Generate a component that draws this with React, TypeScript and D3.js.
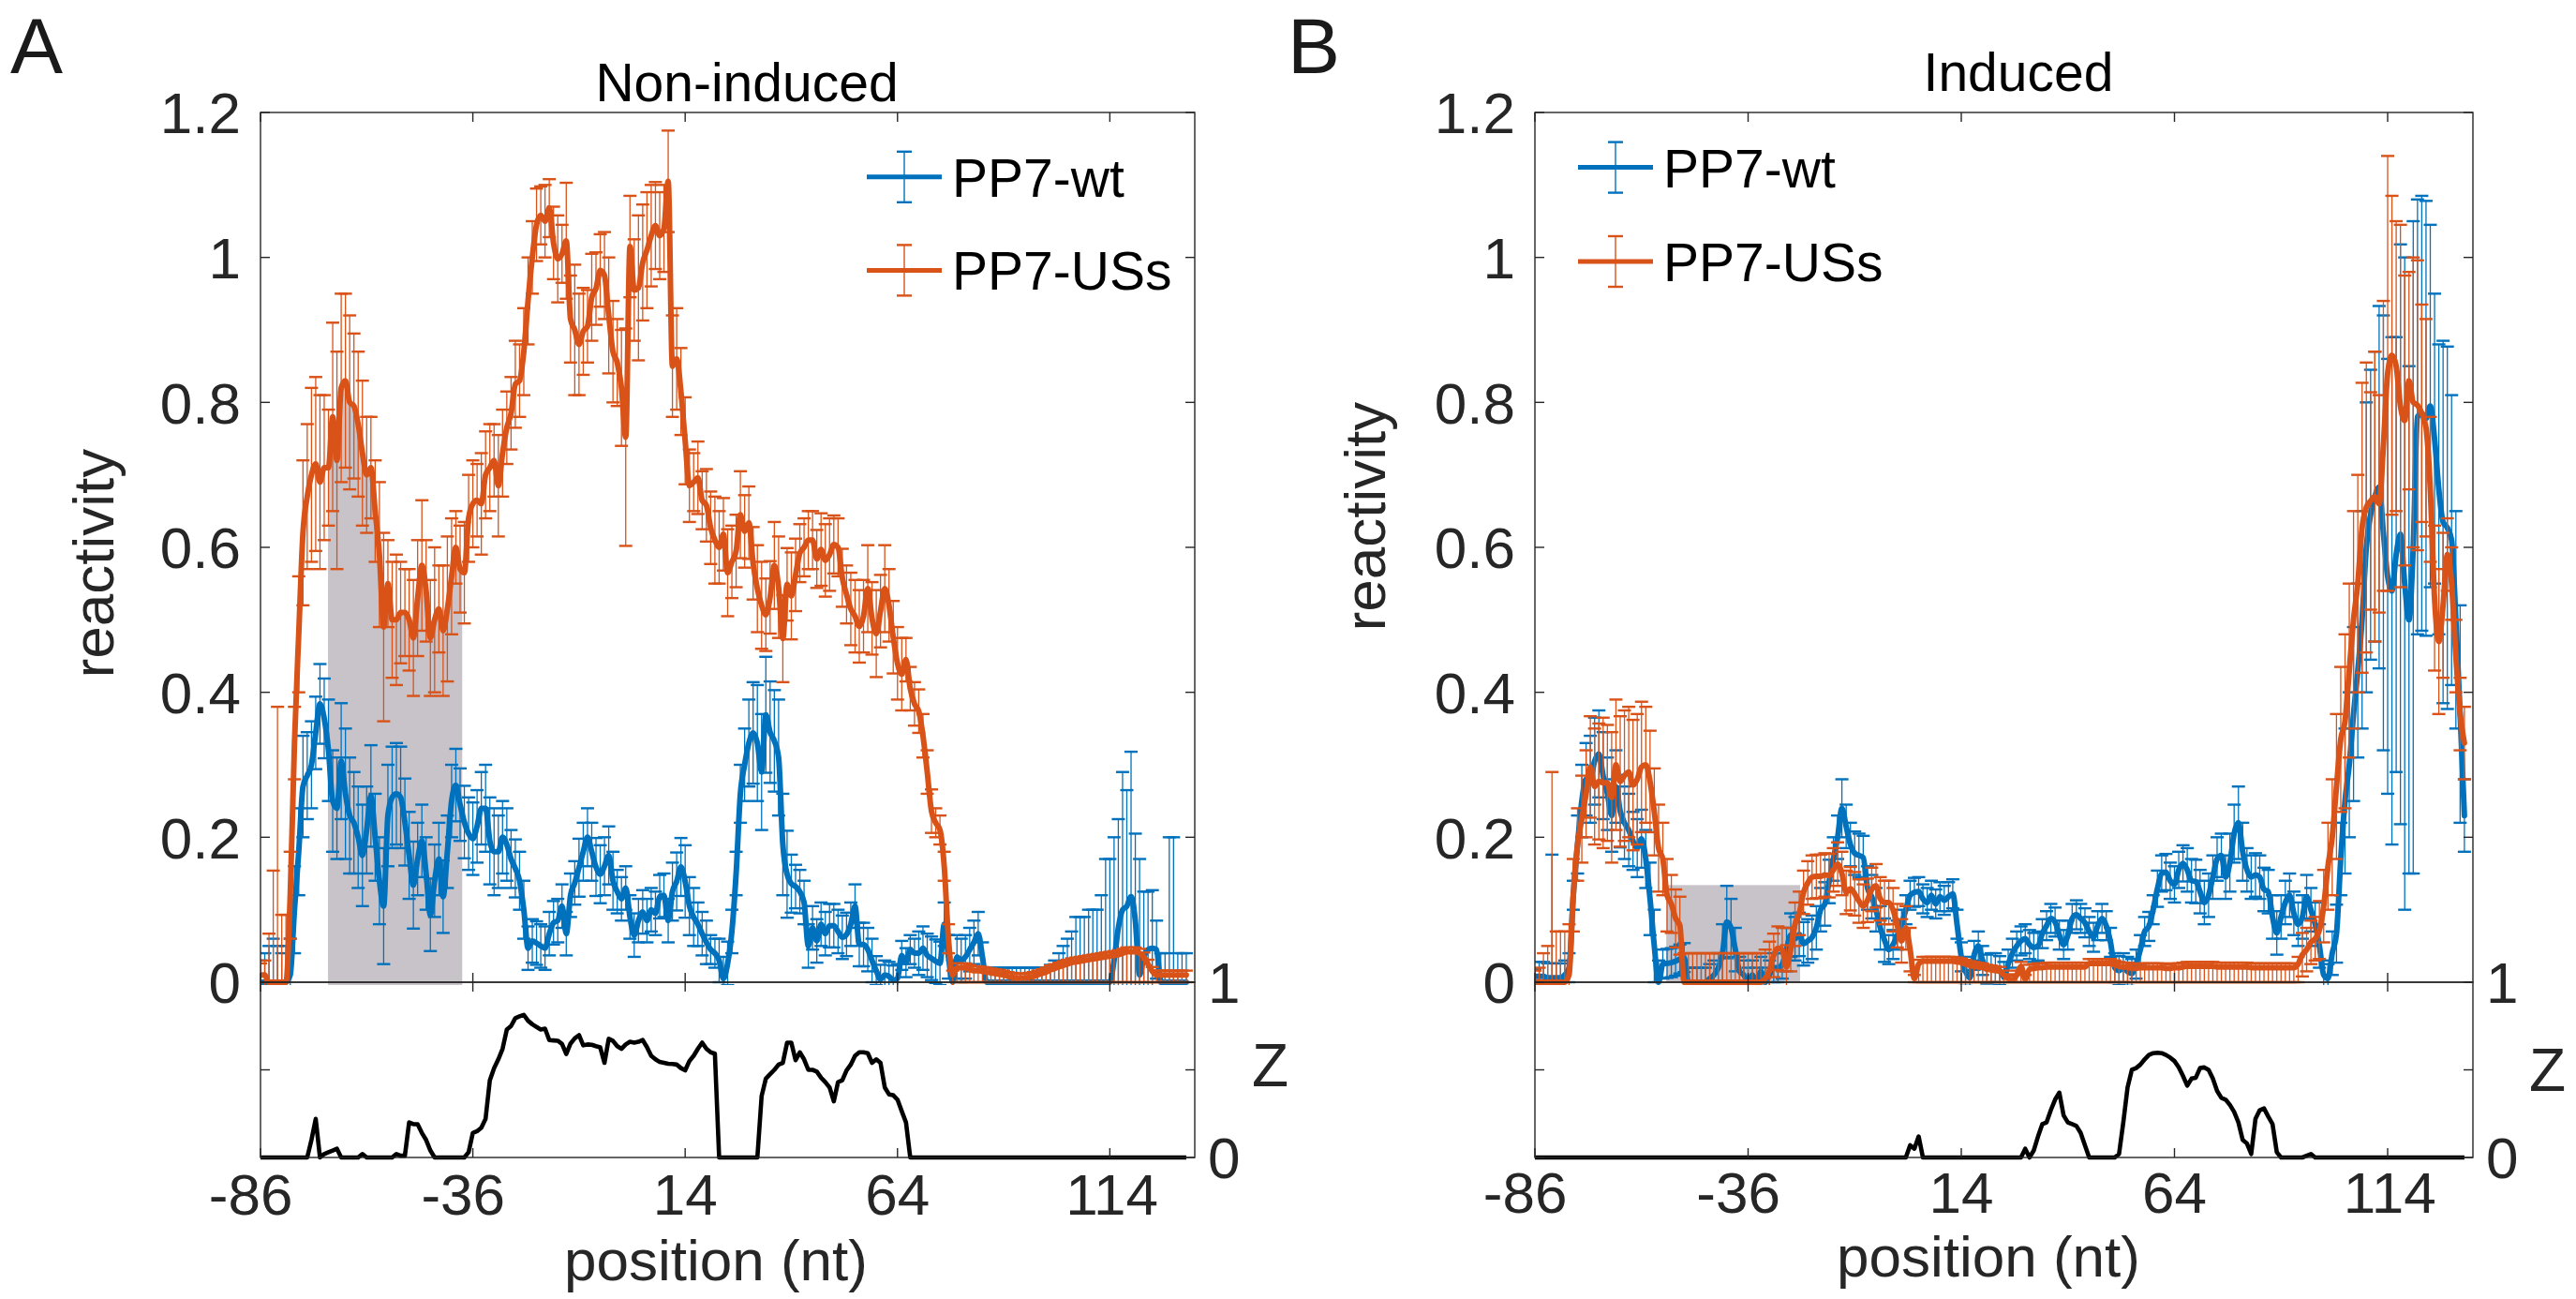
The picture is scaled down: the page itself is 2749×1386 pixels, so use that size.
import React, { useEffect, useRef } from "react";
import * as d3 from "d3";

// ---------- data ----------
const POS_START = -86;
const POS_END = 132;
const positions = d3.range(POS_START, POS_END + 1);

const X_DOMAIN = [-86, 134];
const Y_DOMAIN = [0, 1.2];
const Z_DOMAIN = [0, 1];
const xTicks = [-86, -36, 14, 64, 114];
const yTicks = [0, 0.2, 0.4, 0.6, 0.8, 1, 1.2];
const yTickLabels = ["0", "0.2", "0.4", "0.6", "0.8", "1", "1.2"];
const zTicks = [0, 0.5, 1];
const zTickLabels = ["0", "", "1"];
const seriesNames = ["PP7-wt", "PP7-USs"];
const panelTitles = ["Non-induced", "Induced"];
const panelLetters = ["A", "B"];

// Non-induced (panel A)
const nonInducedWt = [
  0, 0, 0, 0, 0, 0, 0, 0.01, 0.1, 0.18,
  0.27, 0.285, 0.3, 0.344, 0.384, 0.364, 0.32, 0.25, 0.24, 0.305,
  0.26, 0.23, 0.22, 0.2, 0.175, 0.21, 0.257, 0.2, 0.14, 0.105,
  0.23, 0.255, 0.26, 0.255, 0.221, 0.175, 0.134, 0.17, 0.195, 0.15,
  0.093, 0.14, 0.17, 0.118, 0.18, 0.25, 0.272, 0.245, 0.221, 0.205,
  0.198, 0.215, 0.24, 0.24, 0.195, 0.18, 0.18, 0.2, 0.19, 0.17,
  0.157, 0.14, 0.1, 0.047, 0.057, 0.054, 0.05, 0.047, 0.067, 0.082,
  0.085, 0.105, 0.067, 0.12, 0.137, 0.158, 0.18, 0.2, 0.18, 0.159,
  0.149, 0.16, 0.175, 0.14, 0.125, 0.115, 0.13, 0.09, 0.065, 0.085,
  0.097, 0.085, 0.1, 0.095, 0.118, 0.12, 0.085, 0.125, 0.139, 0.159,
  0.139, 0.105, 0.09, 0.08, 0.067, 0.055, 0.045, 0.04, 0.03, 0.005,
  0.026, 0.07, 0.15, 0.26, 0.3, 0.33, 0.344, 0.33, 0.29, 0.369,
  0.345, 0.333, 0.31, 0.19, 0.149, 0.136, 0.132, 0.125, 0.11, 0.05,
  0.075, 0.057, 0.08, 0.067, 0.078, 0.078, 0.07, 0.062, 0.066, 0.08,
  0.105, 0.052, 0.052, 0.045, 0.03, 0.016, 0.004, 0.01, 0.008, 0.003,
  0.005, 0.037, 0.027, 0.045, 0.04, 0.04, 0.047, 0.037, 0.033, 0.029,
  0.026, 0.08, 0.035, 0, 0.035, 0.03, 0.035, 0.045, 0.055, 0.067,
  0.035, 0, 0, 0, 0, 0, 0, 0, 0, 0,
  0, 0, 0, 0, 0, 0, 0, 0, 0, 0,
  0, 0, 0, 0, 0, 0, 0, 0, 0, 0,
  0, 0.03, 0.075, 0.1, 0.105, 0.118, 0.085, 0.01, 0.035, 0.045,
  0.047, 0.045, 0, 0, 0, 0, 0, 0, 0,
];
const nonInducedWtErr = [
  0.03, 0.04, 0.05, 0.06, 0.05, 0.04, 0.05, 0.05, 0.06, 0.06,
  0.07, 0.06, 0.06, 0.05, 0.055, 0.055, 0.07, 0.07, 0.07, 0.08,
  0.09, 0.08, 0.07, 0.07, 0.07, 0.06, 0.07, 0.06, 0.06, 0.08,
  0.07, 0.07, 0.07, 0.07, 0.06, 0.06, 0.06, 0.05, 0.05, 0.05,
  0.05, 0.05, 0.05, 0.05, 0.05, 0.05, 0.05, 0.05, 0.05, 0.05,
  0.05, 0.05, 0.05, 0.06, 0.06, 0.06, 0.05, 0.05, 0.05, 0.04,
  0.04, 0.04, 0.04, 0.03, 0.03, 0.03, 0.03, 0.03, 0.03, 0.03,
  0.03, 0.03, 0.03, 0.03, 0.03, 0.04, 0.04, 0.04, 0.04, 0.04,
  0.04, 0.04, 0.04, 0.04, 0.03, 0.03, 0.03, 0.03, 0.03, 0.03,
  0.03, 0.03, 0.03, 0.03, 0.03, 0.03, 0.03, 0.04, 0.04, 0.04,
  0.05, 0.04, 0.04, 0.03, 0.03, 0.03, 0.02, 0.02, 0.03, 0.03,
  0.03, 0.03, 0.03, 0.04, 0.05, 0.06, 0.07, 0.08, 0.08, 0.08,
  0.07, 0.07, 0.08, 0.07, 0.06, 0.04, 0.03, 0.03, 0.03, 0.03,
  0.03, 0.03, 0.03, 0.03, 0.03, 0.03, 0.03, 0.03, 0.03, 0.03,
  0.03, 0.03, 0.03, 0.03, 0.03, 0.02, 0.02, 0.02, 0.02, 0.02,
  0.02, 0.02, 0.02, 0.02, 0.02, 0.03, 0.03, 0.03, 0.03, 0.03,
  0.03, 0.03, 0.03, 0.03, 0.03, 0.03, 0.03, 0.03, 0.03, 0.03,
  0.02, 0.02, 0.02, 0.02, 0.02, 0.02, 0.02, 0.02, 0.02, 0.02,
  0.02, 0.02, 0.02, 0.02, 0.02, 0.02, 0.024, 0.03, 0.04, 0.05,
  0.06, 0.07, 0.09, 0.09, 0.09, 0.1, 0.1, 0.1, 0.12, 0.17,
  0.17, 0.17, 0.15, 0.19, 0.16, 0.2, 0.12, 0.16, 0.09, 0.08,
  0.08, 0.04, 0.04, 0.04, 0.2, 0.2, 0.04, 0.04, 0.04,
];
const nonInducedUs = [
  0.01, 0.01, 0, 0, 0, 0, 0, 0.12, 0.33, 0.48,
  0.62, 0.67, 0.7, 0.715, 0.69, 0.71, 0.71, 0.78, 0.72, 0.82,
  0.83, 0.8, 0.795, 0.77, 0.73, 0.7, 0.71, 0.65, 0.59, 0.49,
  0.55, 0.5, 0.5, 0.51, 0.51, 0.5, 0.475, 0.53, 0.575, 0.54,
  0.475, 0.5, 0.515, 0.485, 0.515, 0.56, 0.6, 0.57, 0.565, 0.64,
  0.66, 0.665, 0.66, 0.7, 0.71, 0.72, 0.685, 0.73, 0.765, 0.785,
  0.825, 0.83, 0.87, 0.94, 1.0, 1.045, 1.058, 1.05, 1.068, 1.02,
  0.998, 1.005, 1.023, 0.915, 0.9, 0.88, 0.898, 0.905, 0.945, 0.957,
  0.982, 0.975, 0.92, 0.87, 0.855, 0.82, 0.752, 1.015, 0.955, 0.958,
  0.993, 1.01, 1.03, 1.044, 1.03, 1.04, 1.105, 0.85, 0.86, 0.815,
  0.747, 0.685, 0.69, 0.696, 0.665, 0.658, 0.627, 0.61, 0.6, 0.618,
  0.565, 0.58, 0.595, 0.645, 0.622, 0.634, 0.578, 0.543, 0.52, 0.507,
  0.531, 0.575, 0.545, 0.474, 0.549, 0.533, 0.562, 0.592, 0.6, 0.61,
  0.61, 0.584, 0.597, 0.582, 0.59, 0.604, 0.6, 0.558, 0.535, 0.515,
  0.505, 0.491, 0.505, 0.543, 0.502, 0.481, 0.512, 0.543, 0.52, 0.476,
  0.44, 0.425, 0.445, 0.405, 0.384, 0.374, 0.34, 0.29, 0.236, 0.22,
  0.21, 0.16, 0.06, 0.01, 0.02, 0.02, 0.02, 0.018, 0.016, 0.016,
  0.015, 0.014, 0.013, 0.012, 0.011, 0.01, 0.008, 0.007, 0.006, 0.006,
  0.006, 0.007, 0.008, 0.01, 0.012, 0.014, 0.017, 0.019, 0.021, 0.023,
  0.025, 0.027, 0.028, 0.029, 0.03, 0.031, 0.032, 0.033, 0.034, 0.035,
  0.036, 0.037, 0.038, 0.04, 0.042, 0.042, 0.042, 0.04, 0.035, 0.025,
  0.015, 0.01, 0.01, 0.01, 0.01, 0.01, 0.01, 0.01, 0.01,
];
// lower half of the PP7-USs error bars
const nonInducedUsErr = [
  0.016, 0.02, 0.067, 0.154, 0.38, 0.093, 0.093, 0.06, 0.05, 0.08,
  0.1, 0.1, 0.12, 0.12, 0.12, 0.1, 0.08, 0.13, 0.15, 0.13,
  0.12, 0.12, 0.1, 0.1, 0.1, 0.08, 0.07, 0.07, 0.1, 0.13,
  0.06, 0.08, 0.09, 0.07, 0.06, 0.07, 0.08, 0.08, 0.09, 0.07,
  0.08, 0.1, 0.06, 0.09, 0.1, 0.08, 0.05, 0.06, 0.07, 0.06,
  0.06, 0.05, 0.07, 0.06, 0.06, 0.05, 0.07, 0.06, 0.05, 0.05,
  0.06, 0.05, 0.06, 0.06, 0.05, 0.05, 0.04, 0.05, 0.04, 0.05,
  0.06, 0.04, 0.08, 0.06, 0.09, 0.07, 0.06, 0.05, 0.06, 0.05,
  0.05, 0.06, 0.08, 0.07, 0.06, 0.08, 0.15, 0.07, 0.07, 0.1,
  0.08, 0.08, 0.07, 0.06, 0.06, 0.06, 0.07, 0.07, 0.07, 0.06,
  0.06, 0.05, 0.04, 0.05, 0.04, 0.05, 0.05, 0.06, 0.05, 0.05,
  0.06, 0.05, 0.05, 0.06, 0.05, 0.05, 0.05, 0.06, 0.06, 0.05,
  0.05, 0.06, 0.07, 0.06, 0.05, 0.06, 0.05, 0.04, 0.04, 0.04,
  0.04, 0.04, 0.05, 0.05, 0.05, 0.04, 0.04, 0.04, 0.04, 0.05,
  0.05, 0.05, 0.05, 0.06, 0.05, 0.06, 0.05, 0.06, 0.05, 0.05,
  0.05, 0.05, 0.03, 0.03, 0.03, 0.03, 0.03, 0.03, 0.03, 0.02,
  0.02, 0.02, 0.02, 0.02, 0.02, 0.02, 0.02, 0.018, 0.016, 0.016,
  0.015, 0.014, 0.013, 0.012, 0.011, 0.01, 0.008, 0.007, 0.006, 0.006,
  0.006, 0.007, 0.008, 0.01, 0.012, 0.014, 0.017, 0.019, 0.021, 0.023,
  0.025, 0.027, 0.028, 0.029, 0.03, 0.031, 0.032, 0.033, 0.034, 0.035,
  0.036, 0.037, 0.038, 0.04, 0.042, 0.042, 0.042, 0.04, 0.035, 0.025,
  0.015, 0.01, 0.01, 0.01, 0.01, 0.01, 0.01, 0.01, 0.01,
];
// upper half of the PP7-USs error bars
const nonInducedUsErrHigh = [
  0.016, 0.02, 0.067, 0.154, 0.38, 0.093, 0.093, 0.06, 0.05, 0.08,
  0.1, 0.1, 0.12, 0.12, 0.12, 0.1, 0.08, 0.13, 0.15, 0.13,
  0.12, 0.12, 0.1, 0.1, 0.1, 0.08, 0.07, 0.07, 0.1, 0.13,
  0.06, 0.08, 0.09, 0.07, 0.06, 0.07, 0.08, 0.08, 0.09, 0.07,
  0.08, 0.1, 0.06, 0.09, 0.1, 0.08, 0.05, 0.06, 0.07, 0.06,
  0.06, 0.05, 0.07, 0.06, 0.06, 0.05, 0.07, 0.06, 0.05, 0.05,
  0.06, 0.05, 0.06, 0.06, 0.05, 0.05, 0.04, 0.05, 0.04, 0.05,
  0.06, 0.04, 0.08, 0.06, 0.09, 0.07, 0.06, 0.05, 0.06, 0.05,
  0.05, 0.06, 0.08, 0.07, 0.06, 0.08, 0.15, 0.07, 0.07, 0.1,
  0.08, 0.08, 0.07, 0.06, 0.06, 0.06, 0.07, 0.07, 0.07, 0.06,
  0.06, 0.05, 0.04, 0.05, 0.04, 0.05, 0.05, 0.06, 0.05, 0.05,
  0.06, 0.05, 0.05, 0.06, 0.05, 0.05, 0.05, 0.06, 0.06, 0.05,
  0.05, 0.06, 0.07, 0.06, 0.05, 0.06, 0.05, 0.04, 0.04, 0.04,
  0.04, 0.04, 0.05, 0.05, 0.05, 0.04, 0.04, 0.04, 0.04, 0.05,
  0.05, 0.05, 0.05, 0.06, 0.05, 0.06, 0.05, 0.06, 0.05, 0.05,
  0.05, 0.05, 0.03, 0.03, 0.03, 0.03, 0.03, 0.03, 0.03, 0.02,
  0.02, 0.02, 0.02, 0.006, 0.006, 0.006, 0.006, 0.006, 0.006, 0.006,
  0.006, 0.006, 0.006, 0.006, 0.006, 0.006, 0.006, 0.006, 0.006, 0.006,
  0.006, 0.006, 0.006, 0.006, 0.006, 0.006, 0.006, 0.006, 0.006, 0.006,
  0.006, 0.006, 0.006, 0.006, 0.006, 0.006, 0.006, 0.006, 0.006, 0.006,
  0.006, 0.006, 0.006, 0.006, 0.006, 0.006, 0.006, 0.006, 0.006, 0.006,
  0.006, 0.006, 0.006, 0.006, 0.006, 0.006, 0.006, 0.006, 0.006,
];
const nonInducedZ = [
  0, 0, 0, 0, 0, 0, 0, 0, 0, 0,
  0, 0, 0.1, 0.22, 0, 0.02, 0.03, 0.04, 0.05, 0,
  0, 0, 0, 0, 0.02, 0, 0, 0, 0, 0,
  0, 0, 0.02, 0.01, 0.01, 0.2, 0.19, 0.19, 0.14, 0.1,
  0.04, 0, 0, 0, 0, 0, 0, 0, 0, 0.03,
  0.14, 0.15, 0.17, 0.22, 0.44, 0.51, 0.56, 0.62, 0.73, 0.75,
  0.795, 0.805, 0.814, 0.78, 0.76, 0.745, 0.73, 0.735, 0.67, 0.668,
  0.666, 0.648, 0.59, 0.65, 0.68, 0.698, 0.64, 0.645, 0.643, 0.635,
  0.628, 0.54, 0.677, 0.665, 0.635, 0.62, 0.645, 0.66, 0.655, 0.66,
  0.67, 0.63, 0.58, 0.56, 0.545, 0.54, 0.535, 0.533, 0.53, 0.51,
  0.497, 0.55, 0.58, 0.62, 0.655, 0.62, 0.6, 0.592, 0, 0,
  0, 0, 0, 0, 0, 0, 0, 0, 0.35, 0.45,
  0.475, 0.5, 0.53, 0.54, 0.655, 0.655, 0.555, 0.6, 0.56, 0.5,
  0.5, 0.49, 0.455, 0.43, 0.4, 0.32, 0.43, 0.44, 0.497, 0.53,
  0.58, 0.6, 0.6, 0.595, 0.54, 0.56, 0.54, 0.4, 0.36, 0.355,
  0.33, 0.264, 0.2, 0, 0, 0, 0, 0, 0, 0,
  0, 0, 0, 0, 0, 0, 0, 0, 0, 0,
  0, 0, 0, 0, 0, 0, 0, 0, 0, 0,
  0, 0, 0, 0, 0, 0, 0, 0, 0, 0,
  0, 0, 0, 0, 0, 0, 0, 0, 0, 0,
  0, 0, 0, 0, 0, 0, 0, 0, 0, 0,
  0, 0, 0, 0, 0, 0, 0, 0, 0,
];

// Induced (panel B)
const inducedWt = [
  0.008, 0.008, 0.008, 0.006, 0.006, 0.006, 0.006, 0.01, 0.02, 0.12,
  0.19, 0.25, 0.28, 0.28, 0.305, 0.315, 0.285, 0.26, 0.23, 0.27,
  0.236, 0.22, 0.21, 0.195, 0.185, 0.198, 0.17, 0.115, 0.05, 0,
  0.025, 0.026, 0.027, 0.029, 0.032, 0.034, 0, 0, 0, 0,
  0, 0.005, 0.01, 0.02, 0.04, 0.083, 0.075, 0.045, 0.015, 0.01,
  0, 0.01, 0, 0.015, 0, 0.01, 0.02, 0.02, 0.025, 0.045,
  0.065, 0.06, 0.066, 0.053, 0.057, 0.062, 0.075, 0.1, 0.108, 0.139,
  0.17, 0.2, 0.24, 0.215, 0.19, 0.178, 0.175, 0.172, 0.13, 0.118,
  0.1, 0.075, 0.058, 0.045, 0.052, 0.065, 0.08, 0.1, 0.12, 0.124,
  0.125, 0.115, 0.11, 0.12, 0.108, 0.118, 0.113, 0.118, 0.122, 0.08,
  0.035, 0.015, 0.006, 0.037, 0.05, 0.03, 0.018, 0.02, 0.02, 0.016,
  0.008, 0.025, 0.04, 0.05, 0.057, 0.06, 0.052, 0.048, 0.05, 0.067,
  0.078, 0.088, 0.083, 0.065, 0.052, 0.065, 0.088, 0.093, 0.088, 0.082,
  0.07, 0.062, 0.078, 0.088, 0.078, 0.055, 0.02, 0.016, 0.02, 0.015,
  0.012, 0.025, 0.045, 0.07, 0.077, 0.1, 0.129, 0.15, 0.152, 0.14,
  0.135, 0.155, 0.164, 0.155, 0.14, 0.139, 0.125, 0.11, 0.12, 0.145,
  0.17, 0.175, 0.145, 0.165, 0.205, 0.22, 0.18, 0.155, 0.145, 0.148,
  0.145, 0.128, 0.125, 0.09, 0.068, 0.09, 0.11, 0.12, 0.095, 0.08,
  0.09, 0.118, 0.1, 0.08, 0.05, 0.01, 0.005, 0.04, 0.067, 0.17,
  0.25, 0.3, 0.37, 0.43, 0.5, 0.6, 0.645, 0.67, 0.683, 0.62,
  0.56, 0.54, 0.59, 0.618, 0.55, 0.5, 0.6, 0.78, 0.785, 0.778,
  0.795, 0.75, 0.68, 0.635, 0.627, 0.61, 0.5, 0.37, 0.23,
];
const inducedWtErr = [
  0.01, 0.02, 0.02, 0.02, 0.17, 0.02, 0.02, 0.02, 0.02, 0.02,
  0.04, 0.05, 0.05, 0.06, 0.06, 0.06, 0.06, 0.05, 0.05, 0.05,
  0.05, 0.05, 0.05, 0.04, 0.04, 0.04, 0.04, 0.05, 0.05, 0.03,
  0.02, 0.02, 0.02, 0.02, 0.02, 0.02, 0.02, 0.02, 0.02, 0.02,
  0.02, 0.02, 0.02, 0.02, 0.04, 0.05, 0.04, 0.03, 0.02, 0.02,
  0.02, 0.02, 0.02, 0.02, 0.02, 0.02, 0.02, 0.02, 0.02, 0.03,
  0.03, 0.03, 0.03, 0.03, 0.03, 0.03, 0.03, 0.03, 0.03, 0.03,
  0.03, 0.03, 0.04, 0.03, 0.03, 0.03, 0.03, 0.03, 0.03, 0.03,
  0.03, 0.03, 0.03, 0.02, 0.02, 0.02, 0.02, 0.02, 0.02, 0.02,
  0.02, 0.02, 0.02, 0.02, 0.02, 0.02, 0.02, 0.02, 0.02, 0.02,
  0.02, 0.02, 0.02, 0.02, 0.02, 0.02, 0.02, 0.02, 0.02, 0.02,
  0.02, 0.02, 0.02, 0.02, 0.02, 0.02, 0.02, 0.02, 0.02, 0.02,
  0.02, 0.02, 0.02, 0.02, 0.02, 0.02, 0.02, 0.02, 0.02, 0.02,
  0.02, 0.02, 0.02, 0.02, 0.02, 0.02, 0.02, 0.02, 0.02, 0.02,
  0.02, 0.02, 0.02, 0.02, 0.02, 0.02, 0.025, 0.025, 0.025, 0.025,
  0.025, 0.025, 0.025, 0.03, 0.03, 0.03, 0.03, 0.03, 0.03, 0.03,
  0.03, 0.03, 0.03, 0.04, 0.04, 0.05, 0.04, 0.03, 0.03, 0.03,
  0.03, 0.03, 0.03, 0.03, 0.03, 0.03, 0.03, 0.03, 0.03, 0.03,
  0.03, 0.03, 0.03, 0.03, 0.03, 0.02, 0.02, 0.03, 0.04, 0.05,
  0.1, 0.1, 0.12, 0.12, 0.15, 0.2, 0.2, 0.2, 0.25, 0.3,
  0.3, 0.35, 0.3, 0.4, 0.45, 0.35, 0.45, 0.3, 0.3, 0.3,
  0.25, 0.2, 0.2, 0.25, 0.25, 0.2, 0.15, 0.15, 0.05,
];
const inducedUs = [
  0, 0, 0, 0, 0, 0, 0, 0, 0.01, 0.12,
  0.19, 0.225, 0.26, 0.297, 0.27, 0.277, 0.275, 0.275, 0.255, 0.3,
  0.277, 0.285, 0.29, 0.272, 0.28, 0.297, 0.3, 0.277, 0.235, 0.185,
  0.17, 0.12, 0.108, 0.088, 0.078, 0, 0, 0, 0, 0,
  0, 0, 0, 0, 0, 0, 0, 0, 0, 0,
  0, 0, 0, 0, 0.005, 0.016, 0.037, 0.047, 0.045, 0.021,
  0.045, 0.08, 0.095, 0.124, 0.137, 0.145, 0.146, 0.146, 0.148, 0.147,
  0.155, 0.163, 0.15, 0.124, 0.129, 0.122, 0.112, 0.105, 0.113, 0.128,
  0.133, 0.115, 0.11, 0.11, 0.1, 0.078, 0.057, 0.075, 0.045, 0.005,
  0.025, 0.029, 0.029, 0.029, 0.029, 0.029, 0.029, 0.029, 0.029, 0.028,
  0.027, 0.025, 0.023, 0.022, 0.021, 0.02, 0.018, 0.017, 0.016, 0.015,
  0.01, 0.005, 0.003, 0.01, 0.022, 0.004, 0.018, 0.019, 0.02, 0.02,
  0.021, 0.021, 0.021, 0.021, 0.021, 0.021, 0.021, 0.021, 0.021, 0.021,
  0.026, 0.026, 0.026, 0.026, 0.026, 0.026, 0.024, 0.022, 0.021, 0.021,
  0.019, 0.019, 0.02, 0.02, 0.02, 0.02, 0.02, 0.02, 0.019, 0.019,
  0.02, 0.02, 0.021, 0.022, 0.022, 0.022, 0.022, 0.022, 0.022, 0.022,
  0.021, 0.021, 0.021, 0.021, 0.021, 0.021, 0.021, 0.021, 0.02, 0.02,
  0.02, 0.02, 0.02, 0.02, 0.02, 0.02, 0.02, 0.02, 0.02, 0.025,
  0.038, 0.045, 0.055, 0.06, 0.072, 0.105, 0.16, 0.2, 0.27, 0.335,
  0.36, 0.43, 0.5, 0.55, 0.627, 0.655, 0.664, 0.67, 0.66, 0.74,
  0.84, 0.865, 0.85, 0.795, 0.775, 0.83, 0.8, 0.796, 0.785, 0.765,
  0.68, 0.53, 0.47, 0.52, 0.59, 0.55, 0.45, 0.37, 0.33,
];
// lower half of the PP7-USs error bars
const inducedUsErr = [
  0.016, 0.02, 0.04, 0.05, 0.29, 0.07, 0.07, 0.07, 0.07, 0.05,
  0.05, 0.06, 0.06, 0.07, 0.08, 0.08, 0.09, 0.08, 0.09, 0.09,
  0.09, 0.09, 0.09, 0.09, 0.09, 0.09, 0.08, 0.07, 0.06, 0.06,
  0.05, 0.05, 0.04, 0.04, 0.04, 0.04, 0.04, 0.04, 0.04, 0.04,
  0.04, 0.04, 0.04, 0.04, 0.04, 0.04, 0.04, 0.04, 0.04, 0.04,
  0.04, 0.04, 0.04, 0.04, 0.04, 0.04, 0.03, 0.03, 0.03, 0.03,
  0.03, 0.03, 0.03, 0.03, 0.03, 0.03, 0.03, 0.03, 0.03, 0.03,
  0.03, 0.03, 0.03, 0.03, 0.03, 0.03, 0.03, 0.03, 0.03, 0.03,
  0.03, 0.03, 0.03, 0.03, 0.03, 0.03, 0.03, 0.03, 0.03, 0.005,
  0.025, 0.029, 0.029, 0.029, 0.029, 0.029, 0.029, 0.029, 0.029, 0.028,
  0.027, 0.025, 0.023, 0.022, 0.021, 0.02, 0.018, 0.017, 0.016, 0.015,
  0.01, 0.005, 0.003, 0.01, 0.022, 0.004, 0.018, 0.019, 0.02, 0.02,
  0.021, 0.021, 0.021, 0.021, 0.021, 0.021, 0.021, 0.021, 0.021, 0.021,
  0.026, 0.026, 0.026, 0.026, 0.026, 0.026, 0.024, 0.022, 0.021, 0.021,
  0.019, 0.019, 0.02, 0.02, 0.02, 0.02, 0.02, 0.02, 0.019, 0.019,
  0.02, 0.02, 0.021, 0.022, 0.022, 0.022, 0.022, 0.022, 0.022, 0.022,
  0.021, 0.021, 0.021, 0.021, 0.021, 0.021, 0.021, 0.021, 0.02, 0.02,
  0.02, 0.02, 0.02, 0.02, 0.02, 0.02, 0.02, 0.02, 0.02, 0.025,
  0.03, 0.03, 0.03, 0.03, 0.04, 0.05, 0.06, 0.08, 0.1, 0.1,
  0.12, 0.12, 0.15, 0.15, 0.2, 0.2, 0.15, 0.2, 0.15, 0.2,
  0.3, 0.22, 0.2, 0.25, 0.2, 0.15, 0.2, 0.2, 0.15, 0.15,
  0.1, 0.1, 0.1, 0.1, 0.05, 0.05, 0.05, 0.05, 0.05,
];
// upper half of the PP7-USs error bars
const inducedUsErrHigh = [
  0.016, 0.02, 0.04, 0.05, 0.29, 0.07, 0.07, 0.07, 0.07, 0.05,
  0.05, 0.06, 0.06, 0.07, 0.08, 0.08, 0.09, 0.08, 0.09, 0.09,
  0.09, 0.09, 0.09, 0.09, 0.09, 0.09, 0.08, 0.07, 0.06, 0.06,
  0.05, 0.05, 0.04, 0.04, 0.04, 0.04, 0.04, 0.04, 0.04, 0.04,
  0.04, 0.04, 0.04, 0.04, 0.04, 0.04, 0.04, 0.04, 0.04, 0.04,
  0.04, 0.04, 0.04, 0.04, 0.04, 0.04, 0.03, 0.03, 0.03, 0.03,
  0.03, 0.03, 0.03, 0.03, 0.03, 0.03, 0.03, 0.03, 0.03, 0.03,
  0.03, 0.03, 0.03, 0.03, 0.03, 0.03, 0.03, 0.03, 0.03, 0.03,
  0.03, 0.03, 0.03, 0.03, 0.03, 0.03, 0.03, 0.03, 0.03, 0.005,
  0.006, 0.006, 0.006, 0.006, 0.006, 0.006, 0.006, 0.006, 0.006, 0.006,
  0.006, 0.006, 0.006, 0.006, 0.006, 0.006, 0.006, 0.006, 0.006, 0.006,
  0.006, 0.006, 0.006, 0.006, 0.006, 0.006, 0.006, 0.006, 0.006, 0.006,
  0.006, 0.006, 0.006, 0.006, 0.006, 0.006, 0.006, 0.006, 0.006, 0.006,
  0.006, 0.006, 0.006, 0.006, 0.006, 0.006, 0.006, 0.006, 0.006, 0.006,
  0.006, 0.006, 0.006, 0.006, 0.006, 0.006, 0.006, 0.006, 0.006, 0.006,
  0.006, 0.006, 0.006, 0.006, 0.006, 0.006, 0.006, 0.006, 0.006, 0.006,
  0.006, 0.006, 0.006, 0.006, 0.006, 0.006, 0.006, 0.006, 0.006, 0.006,
  0.006, 0.006, 0.006, 0.006, 0.006, 0.006, 0.006, 0.006, 0.006, 0.01,
  0.03, 0.03, 0.03, 0.03, 0.04, 0.05, 0.06, 0.08, 0.1, 0.1,
  0.12, 0.12, 0.15, 0.15, 0.2, 0.2, 0.15, 0.2, 0.15, 0.2,
  0.3, 0.22, 0.2, 0.25, 0.2, 0.15, 0.2, 0.2, 0.15, 0.15,
  0.1, 0.1, 0.1, 0.1, 0.05, 0.05, 0.05, 0.05, 0.05,
];
const inducedZ = [
  0, 0, 0, 0, 0, 0, 0, 0, 0, 0,
  0, 0, 0, 0, 0, 0, 0, 0, 0, 0,
  0, 0, 0, 0, 0, 0, 0, 0, 0, 0,
  0, 0, 0, 0, 0, 0, 0, 0, 0, 0,
  0, 0, 0, 0, 0, 0, 0, 0, 0, 0,
  0, 0, 0, 0, 0, 0, 0, 0, 0, 0,
  0, 0, 0, 0, 0, 0, 0, 0, 0, 0,
  0, 0, 0, 0, 0, 0, 0, 0, 0, 0,
  0, 0, 0, 0, 0, 0, 0, 0, 0.07, 0.05,
  0.12, 0, 0, 0, 0, 0, 0, 0, 0, 0,
  0, 0, 0, 0, 0, 0, 0, 0, 0, 0,
  0, 0, 0, 0, 0, 0.05, 0, 0.04, 0.12, 0.19,
  0.2, 0.27, 0.33, 0.37, 0.24, 0.2, 0.19, 0.18, 0.14, 0.07,
  0, 0, 0, 0, 0, 0, 0, 0.02, 0.2, 0.4,
  0.5, 0.51, 0.53, 0.56, 0.585, 0.595, 0.598, 0.595, 0.585, 0.57,
  0.55, 0.515, 0.465, 0.41, 0.45, 0.455, 0.51, 0.514, 0.5, 0.45,
  0.38, 0.34, 0.33, 0.3, 0.26, 0.2, 0.1, 0.08, 0.02, 0.22,
  0.27, 0.28, 0.233, 0.19, 0.03, 0, 0, 0, 0, 0,
  0, 0.01, 0.02, 0, 0, 0, 0, 0, 0, 0,
  0, 0, 0, 0, 0, 0, 0, 0, 0, 0,
  0, 0, 0, 0, 0, 0, 0, 0, 0, 0,
  0, 0, 0, 0, 0, 0, 0, 0, 0,
];

// shaded regions (positions in nt, heights in reactivity)
const shadeA = [-70.1, -38.5];
const shadeB = [-55.2, -23.8];
const shadeBHeight = 0.134;

// ---------- styles / layout ----------
const BLUE = "#0072BD";
const ORANGE = "#D95319";
const SHADE = "#c8c3c8";
const AXIS = "#262626";
const FONT = "'Liberation Sans', Arial, Helvetica, sans-serif";
const TICK_FS = 62;
const CAP = 14;

const PANELS = [
  {
    wt: nonInducedWt, wtErr: nonInducedWtErr, wtErrHigh: nonInducedWtErr,
    us: nonInducedUs, usErr: nonInducedUsErr, usErrHigh: nonInducedUsErrHigh, z: nonInducedZ,
    shade: { kind: "area", range: shadeA, h: 0 },
    L: {
      left: 278, right: 1275, top: 120, zero: 1048, bottom: 1235,
      letterX: 11, titleX: 797, titleY: 108, xlabX: 764, xlabY: 1366,
      ylabX: 121, ylabY: 601, tickLabY: 1296, legX: 925, legY: [188.8, 288.4],
      zLabX: 1336, zLabY: 1159,
    },
  },
  {
    wt: inducedWt, wtErr: inducedWtErr, wtErrHigh: inducedWtErr,
    us: inducedUs, usErr: inducedUsErr, usErrHigh: inducedUsErrHigh, z: inducedZ,
    shade: { kind: "rect", range: shadeB, h: shadeBHeight },
    L: {
      left: 1638, right: 2639, top: 120, zero: 1048, bottom: 1235,
      letterX: 1374, titleX: 2154, titleY: 97, xlabX: 2122, xlabY: 1362,
      ylabX: 1478, ylabY: 551, tickLabY: 1294, legX: 1684, legY: [178.6, 279],
      zLabX: 2699, zLabY: 1164,
    },
  },
];

function drawPanel(svg: any, P: any, idx: number) {
  const L = P.L;
  const x = d3.scaleLinear().domain(X_DOMAIN).range([L.left, L.right]);
  const y = d3.scaleLinear().domain(Y_DOMAIN).range([L.zero, L.top]);
  const z = d3.scaleLinear().domain(Z_DOMAIN).range([L.bottom, L.zero]);

  const defs = svg.append("defs");
  const upId = `clipUp${idx}`;
  const zId = `clipZ${idx}`;
  defs.append("clipPath").attr("id", upId).append("rect")
    .attr("x", L.left).attr("y", L.top).attr("width", L.right - L.left).attr("height", L.zero - L.top + 3);
  defs.append("clipPath").attr("id", zId).append("rect")
    .attr("x", L.left).attr("y", L.zero).attr("width", L.right - L.left).attr("height", L.bottom - L.zero + 3);

  const g = svg.append("g");
  const plot = g.append("g").attr("clip-path", `url(#${upId})`);

  // shaded region
  if (P.shade.kind === "area") {
    const sId = `clipShade${idx}`;
    defs.append("clipPath").attr("id", sId).append("rect")
      .attr("x", x(P.shade.range[0])).attr("y", L.top)
      .attr("width", x(P.shade.range[1]) - x(P.shade.range[0])).attr("height", L.zero - L.top + 3);
    const area = d3.area<number>()
      .x((_, i) => x(positions[i]))
      .y0(y(0) + 3)
      .y1((d) => y(d))
      .curve(d3.curveMonotoneX);
    plot.append("g").attr("clip-path", `url(#${sId})`).append("path")
      .datum(P.us).attr("d", area).attr("fill", SHADE);
  } else {
    plot.append("rect")
      .attr("x", x(P.shade.range[0])).attr("y", y(P.shade.h))
      .attr("width", x(P.shade.range[1]) - x(P.shade.range[0]))
      .attr("height", y(0) - y(P.shade.h))
      .attr("fill", SHADE);
  }

  const series = [
    { vals: P.wt, lo: P.wtErr, hi: P.wtErrHigh, color: BLUE },
    { vals: P.us, lo: P.usErr, hi: P.usErrHigh, color: ORANGE },
  ];
  const line = d3.line<number>()
    .x((_, i) => x(positions[i]))
    .y((d) => y(d))
    .curve(d3.curveMonotoneX);

  series.forEach((s) => {
    const eb = plot.append("g").attr("stroke", s.color);
    positions.forEach((pos, i) => {
      const v = s.vals[i];
      const a = v - s.lo[i];
      const b = v + s.hi[i];
      const cx = x(pos);
      eb.append("line").attr("x1", cx).attr("x2", cx)
        .attr("y1", y(a)).attr("y2", y(b)).attr("stroke-width", 1.3);
      [a, b].forEach((t) => {
        eb.append("line").attr("x1", cx - CAP / 2).attr("x2", cx + CAP / 2)
          .attr("y1", y(t)).attr("y2", y(t)).attr("stroke-width", 2.4);
      });
    });
    plot.append("path").datum(s.vals).attr("d", line)
      .attr("fill", "none").attr("stroke", s.color).attr("stroke-width", 6)
      .attr("stroke-linejoin", "round").attr("stroke-linecap", "round");
  });

  // Z curve
  const zLine = d3.line<number>()
    .x((_, i) => x(positions[i]))
    .y((d) => z(d));
  g.append("g").attr("clip-path", `url(#${zId})`).append("path")
    .datum(P.z).attr("d", zLine)
    .attr("fill", "none").attr("stroke", "#000").attr("stroke-width", 4.6)
    .attr("stroke-linejoin", "round");

  // axes boxes and ticks
  const ax = g.append("g").attr("stroke", AXIS).attr("fill", "none").attr("stroke-width", 1.4);
  ax.append("rect").attr("x", L.left).attr("y", L.top).attr("width", L.right - L.left).attr("height", L.zero - L.top);
  ax.append("rect").attr("x", L.left).attr("y", L.zero).attr("width", L.right - L.left).attr("height", L.bottom - L.zero);
  const TL = 10;
  xTicks.forEach((t) => {
    const px = x(t);
    ax.append("line").attr("x1", px).attr("x2", px).attr("y1", L.top).attr("y2", L.top + TL);
    ax.append("line").attr("x1", px).attr("x2", px).attr("y1", L.zero).attr("y2", L.zero - TL);
    ax.append("line").attr("x1", px).attr("x2", px).attr("y1", L.zero).attr("y2", L.zero + TL);
    ax.append("line").attr("x1", px).attr("x2", px).attr("y1", L.bottom).attr("y2", L.bottom - TL);
  });
  yTicks.forEach((t) => {
    const py = y(t);
    ax.append("line").attr("x1", L.left).attr("x2", L.left + TL).attr("y1", py).attr("y2", py);
    ax.append("line").attr("x1", L.right).attr("x2", L.right - TL).attr("y1", py).attr("y2", py);
  });
  zTicks.forEach((t) => {
    const py = z(t);
    ax.append("line").attr("x1", L.left).attr("x2", L.left + TL).attr("y1", py).attr("y2", py);
    ax.append("line").attr("x1", L.right).attr("x2", L.right - TL).attr("y1", py).attr("y2", py);
  });

  // text
  const txt = g.append("g").attr("font-family", FONT).attr("fill", AXIS);
  xTicks.forEach((t) => {
    const label = String(t);
    const digits = label.replace("-", "").length;
    txt.append("text").attr("x", x(t) + (digits * 0.556 * TICK_FS) / 2).attr("y", L.tickLabY)
      .attr("text-anchor", "end").attr("font-size", TICK_FS).text(label);
  });
  yTicks.forEach((t, i) => {
    txt.append("text").attr("x", L.left - 21).attr("y", y(t) + 0.358 * TICK_FS)
      .attr("text-anchor", "end").attr("font-size", TICK_FS).text(yTickLabels[i]);
  });
  zTicks.forEach((t, i) => {
    if (!zTickLabels[i]) return;
    txt.append("text").attr("x", L.right + 14).attr("y", z(t) + 0.358 * TICK_FS)
      .attr("text-anchor", "start").attr("font-size", TICK_FS).text(zTickLabels[i]);
  });
  txt.append("text").attr("x", L.zLabX).attr("y", L.zLabY).attr("font-size", 64).text("Z");
  txt.append("text").attr("x", L.xlabX).attr("y", L.xlabY).attr("text-anchor", "middle")
    .attr("font-size", 62).text("position (nt)");
  txt.append("text").attr("transform", `translate(${L.ylabX},${L.ylabY}) rotate(-90)`)
    .attr("text-anchor", "middle").attr("font-size", 62).text("reactivity");
  txt.append("text").attr("x", L.titleX).attr("y", L.titleY).attr("text-anchor", "middle")
    .attr("font-size", 57).attr("fill", "#000").text(panelTitles[idx]);
  txt.append("text").attr("x", L.letterX).attr("y", 78).attr("font-size", 84)
    .attr("fill", "#1a1a1a").text(panelLetters[idx]);

  // legend
  const lg = g.append("g");
  [BLUE, ORANGE].forEach((c, k) => {
    const ly = L.legY[k];
    const x0 = L.legX;
    const x1 = x0 + 80;
    const cx = (x0 + x1) / 2;
    lg.append("line").attr("x1", x0).attr("x2", x1).attr("y1", ly).attr("y2", ly)
      .attr("stroke", c).attr("stroke-width", 5);
    lg.append("line").attr("x1", cx).attr("x2", cx).attr("y1", ly - 27).attr("y2", ly + 27)
      .attr("stroke", c).attr("stroke-width", 1.4);
    [ly - 27, ly + 27].forEach((yy) => {
      lg.append("line").attr("x1", cx - 8).attr("x2", cx + 8).attr("y1", yy).attr("y2", yy)
        .attr("stroke", c).attr("stroke-width", 2.4);
    });
    lg.append("text").attr("x", x1 + 11).attr("y", ly + 21).attr("font-family", FONT)
      .attr("font-size", 57).attr("fill", "#000").text(seriesNames[k]);
  });
}

export default function App() {
  const ref = useRef<SVGSVGElement>(null);
  useEffect(() => {
    document.body.style.margin = "0";
    const svg = d3.select(ref.current);
    svg.selectAll("*").remove();
    svg.append("rect").attr("width", 2749).attr("height", 1386).attr("fill", "#fff");
    PANELS.forEach((P, i) => drawPanel(svg, P, i));
  }, []);
  return (
    <svg
      ref={ref}
      width={2749}
      height={1386}
      style={{ position: "absolute", left: 0, top: 0, display: "block" }}
    />
  );
}
